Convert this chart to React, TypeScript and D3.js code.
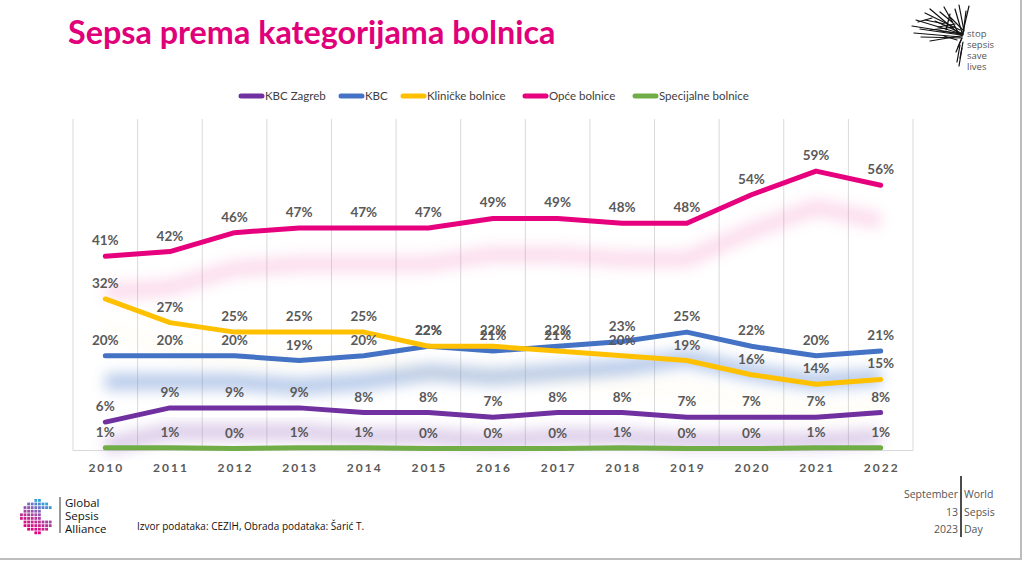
import React from 'react';
import * as d3 from 'd3';

const years = ['2010', '2011', '2012', '2013', '2014', '2015', '2016', '2017', '2018', '2019', '2020', '2021', '2022'];
const seriesNames = ['KBC Zagreb', 'KBC', 'Kliničke bolnice', 'Opće bolnice', 'Specijalne bolnice'];
const kbcZagreb = [6, 9, 9, 9, 8, 8, 7, 8, 8, 7, 7, 7, 8];
const kbc = [20, 20, 20, 19, 20, 22, 21, 22, 23, 25, 22, 20, 21];
const klinicke = [32, 27, 25, 25, 25, 22, 22, 21, 20, 19, 16, 14, 15];
const opce = [41, 42, 46, 47, 47, 47, 49, 49, 48, 48, 54, 59, 56];
const specijalne = [0.6, 0.6, 0.4, 0.6, 0.6, 0.4, 0.4, 0.4, 0.6, 0.4, 0.4, 0.6, 0.6];
const seriesColors = ['#7030A0', '#4472C4', '#FFC000', '#E6007E', '#70AD47'];
const shadowColors = ['#9a6cc0', '#5b86cf', '#ffd866', '#ee5fa6', '#a5cc8a'];
const shadowOpacity = [0.35, 0.45, 0.05, 0.22, 0.0];
const shadowOffset = [24, 26, 28, 36, 0];

const W = 1024;
const H = 561;
const plotLeft = 73;
const plotRight = 913;
const plotTop = 119;
const plotBottom = 450.5;

const allSeries = [kbcZagreb, kbc, klinicke, opce, specijalne];

const scribble: [number, number, number, number][] = [
  [962, 34, 912, 26], [962, 34, 916, 20], [960, 30, 925, 13], [962, 36, 930, 9], [958, 32, 944, 7],
  [963, 30, 950, 17], [962, 33, 955, 9], [964, 31, 959, 5], [963, 35, 966, 11], [962, 36, 969, 6],
  [961, 37, 914, 33], [962, 38, 921, 37], [960, 36, 930, 41], [961, 35, 920, 29], [962, 34, 940, 31],
  [961, 33, 935, 21], [955, 24, 938, 27], [950, 14, 946, 30], [925, 20, 945, 24], [930, 30, 955, 27],
  [962, 38, 958, 47], [961, 40, 956, 52], [963, 42, 960, 58], [960, 45, 957, 62], [962, 48, 959, 66],
  [918, 22, 932, 18], [940, 12, 952, 22], [944, 36, 957, 40],
];

function Globe() {
  const cells: JSX.Element[] = [];
  const cx = 38, cy = 517, r = 17;
  const step = 3.6;
  for (let i = -5; i <= 4; i++) {
    for (let j = -5; j <= 4; j++) {
      const x = cx + i * step;
      const y = cy + j * step;
      const dx = x + step / 2 - cx;
      const dy = y + step / 2 - cy;
      if (dx * dx + dy * dy > r * r) continue;
      if (dx > 2 && dy < 4 && dy > -6) continue;
      const t = (dy + r) / (2 * r);
      const col = d3.interpolateRgbBasis(['#2ea3dc', '#8a5fb8', '#c02c8e', '#e6007e'])(Math.min(1, Math.max(0, t - dx / (4 * r))));
      cells.push(<rect key={`${i}_${j}`} x={x} y={y} width={step - 0.8} height={step - 0.8} fill={col} />);
    }
  }
  return <g>{cells}</g>;
}

export default function App() {
  const x = d3.scalePoint<string>().domain(years).range([plotLeft, plotRight]).padding(0.5);
  const y = d3.scaleLinear().domain([0, 70]).range([plotBottom, plotTop]);
  const band = x.step();
  const line = d3.line<number>().x((_, i) => x(years[i]) as number).y((d) => y(d));
  const fmt = (v: number) => `${Math.round(v)}%`;
  const gridXs = d3.range(years.length + 1).map((i) => plotLeft + i * band);

  const legendStarts = [239, 339, 401, 523, 633];

  return (
    <svg width={W} height={H} style={{ position: 'absolute', left: 0, top: 0, background: '#fff' }}
      fontFamily="Lato, 'Open Sans', sans-serif">
      <defs>
        <filter id="blur" x="-20%" y="-100%" width="140%" height="300%">
          <feGaussianBlur stdDeviation="7" />
        </filter>
      </defs>
      <rect x={0} y={0} width={W} height={H} fill="#fff" />
      <text x={68} y={44} fontSize={32.3} fontWeight={700} fill="#E0007A">Sepsa prema kategorijama bolnica</text>

      {/* legend */}
      {seriesNames.map((n, i) => (
        <g key={n}>
          <line x1={legendStarts[i] + 2} x2={legendStarts[i] + 23} y1={96} y2={96} stroke={seriesColors[i]} strokeWidth={5} strokeLinecap="round" />
          <text x={legendStarts[i] + 26} y={100} fontSize={11.5} fill="#404040">{n}</text>
        </g>
      ))}

      {/* grid */}
      {gridXs.map((gx, i) => (
        <line key={i} x1={gx} x2={gx} y1={plotTop} y2={plotBottom} stroke="#d9d9d9" strokeWidth={1} />
      ))}
      <line x1={plotLeft} x2={plotRight} y1={plotBottom} y2={plotBottom} stroke="#d9d9d9" strokeWidth={1} />

      {/* shadows */}
      {allSeries.map((s, i) => (
        <path key={`sh${i}`} d={line(s) || ''} transform={`translate(0,${shadowOffset[i]})`} fill="none" stroke={shadowColors[i]}
          strokeWidth={16} opacity={shadowOpacity[i]} filter="url(#blur)" strokeLinejoin="round" />
      ))}

      {/* lines */}
      {allSeries.map((s, i) => (
        <path key={`l${i}`} d={line(s) || ''} fill="none" stroke={seriesColors[i]} strokeWidth={5}
          strokeLinejoin="round" strokeLinecap="round" />
      ))}

      {/* labels */}
      {allSeries.map((s, i) => (
        <g key={`lb${i}`}>
          {s.map((v, j) => (
            <text key={j} x={x(years[j])} y={y(v) - 11} textAnchor="middle" fontSize={13.5} fontWeight={700} fill="#595959">
              {fmt(v)}
            </text>
          ))}
        </g>
      ))}

      {/* x axis */}
      {years.map((yr) => (
        <text key={yr} x={(x(yr) as number) + 1} y={472} textAnchor="middle" fontSize={12} fontWeight={700}
          fill="#595959" letterSpacing={2}>{yr}</text>
      ))}

      {/* top right logo */}
      <g stroke="#111" strokeWidth={1.2} strokeLinecap="round">
        {scribble.map((s, i) => (
          <line key={i} x1={s[0]} y1={s[1]} x2={s[2]} y2={s[3]} />
        ))}
      </g>
      <g fontSize={9.5} fill="#555" fontFamily="'Open Sans', sans-serif">
        <text x={967} y={37}>stop</text>
        <text x={967} y={48}>sepsis</text>
        <text x={967} y={59}>save</text>
        <text x={967} y={70}>lives</text>
      </g>

      {/* bottom left logo */}
      <Globe />
      <line x1={60} x2={60} y1={497} y2={533} stroke="#333" strokeWidth={1} />
      <g fontSize={11.5} fill="#111" fontFamily="'Open Sans', sans-serif">
        <text x={65} y={507}>Global</text>
        <text x={65} y={520}>Sepsis</text>
        <text x={65} y={533}>Alliance</text>
      </g>
      <text x={137} y={530} fontSize={10} fill="#111" fontFamily="'Open Sans', sans-serif">Izvor podataka: CEZIH, Obrada podataka: Šarić T.</text>

      {/* bottom right */}
      <line x1={961} x2={961} y1={476} y2={537} stroke="#111" strokeWidth={1.5} />
      <g fontSize={10.5} fill="#555" fontFamily="'Open Sans', sans-serif">
        <text x={958} y={498} textAnchor="end">September</text>
        <text x={958} y={516} textAnchor="end">13</text>
        <text x={958} y={533} textAnchor="end">2023</text>
        <text x={964} y={498}>World</text>
        <text x={964} y={516}>Sepsis</text>
        <text x={964} y={533}>Day</text>
      </g>

      {/* frame */}
      <line x1={1021} x2={1021} y1={0} y2={559} stroke="#bdbdbd" strokeWidth={2} />
      <line x1={0} x2={1022} y1={559} y2={559} stroke="#bdbdbd" strokeWidth={2} />
    </svg>
  );
}
